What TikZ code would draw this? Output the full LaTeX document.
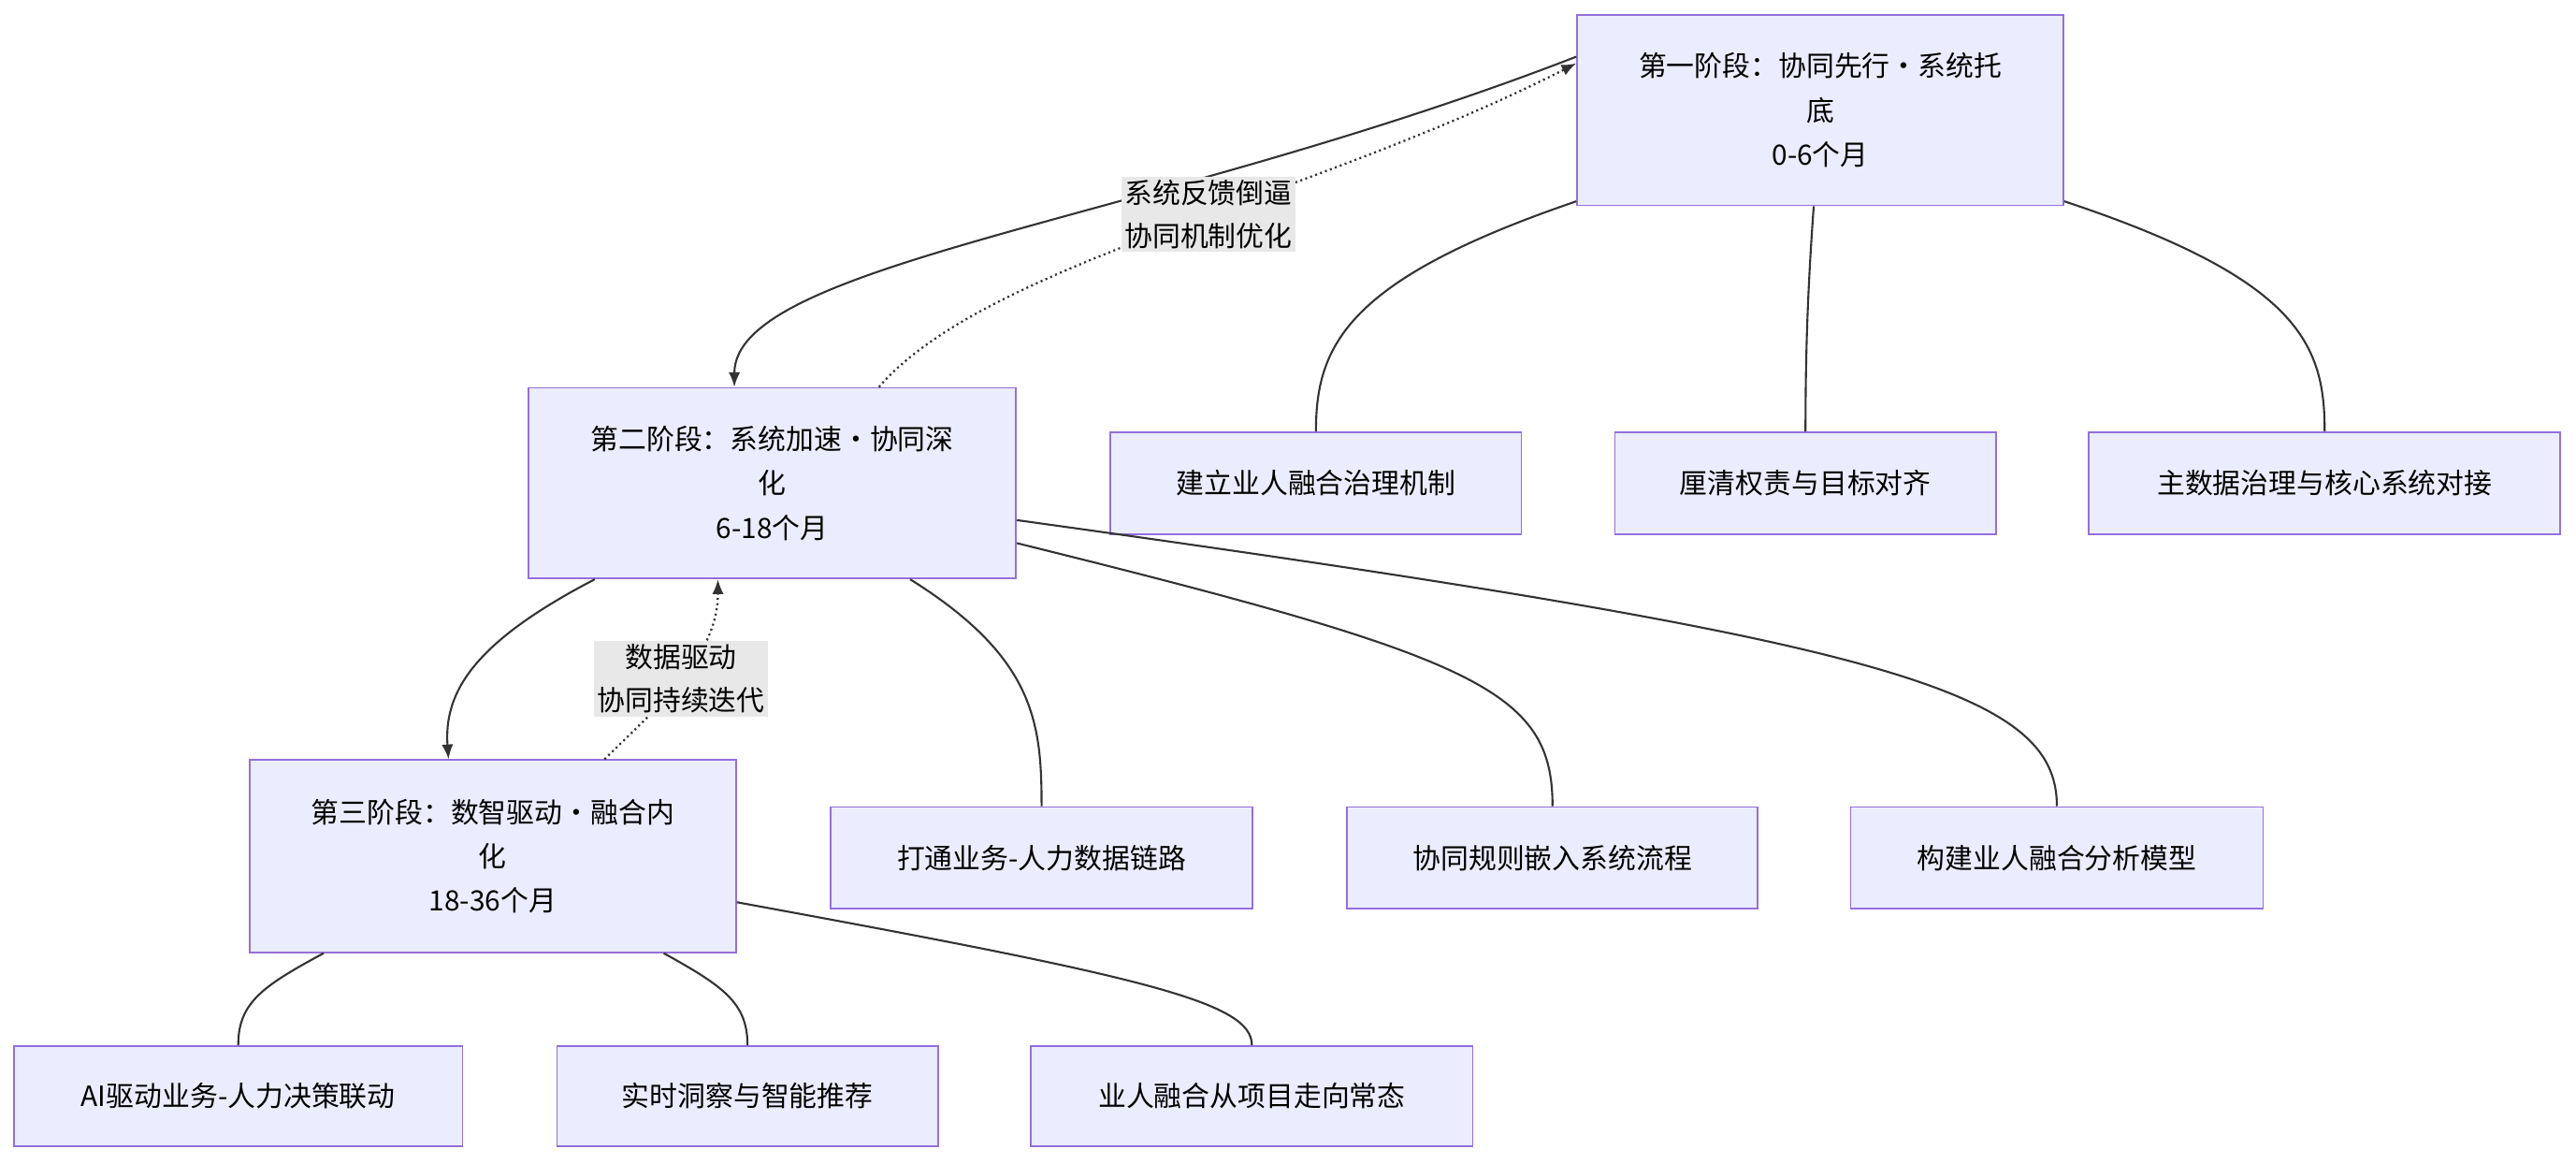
\documentclass[tikz,border=0pt]{standalone}
\usepackage{fontspec}
\setmainfont{Noto Sans CJK SC}
\usetikzlibrary{arrows.meta}
\definecolor{nfill}{HTML}{ECECFF}
\definecolor{nline}{HTML}{9370DB}
\definecolor{edge}{HTML}{333333}
\definecolor{lbg}{HTML}{E8E8E8}
\begin{document}
\begin{tikzpicture}[x=1pt,y=1pt,
  box/.style={draw=nline,fill=nfill,line width=1pt,inner sep=0,align=center,font=\fontsize{17}{27}\selectfont},
  ln/.style={draw=edge,line width=1.2pt},
  arr/.style={ln,-{Latex[length=9pt,width=7pt]}},
  dot/.style={arr,dotted,line width=1.3pt},
  lab/.style={fill=lbg,align=center,inner sep=2pt,font=\fontsize{17}{26}\selectfont}]
\useasboundingbox (0,0) rectangle (1568,-708);
\node[box,minimum width=296,minimum height=116] (p1) at (1108,-67) {第一阶段：协同先行·系统托\\底\\0-6个月};
\node[box,minimum width=297,minimum height=116] (p2) at (470,-294) {第二阶段：系统加速·协同深\\化\\6-18个月};
\node[box,minimum width=296,minimum height=117] (p3) at (300,-521) {第三阶段：数智驱动·融合内\\化\\18-36个月};
\node[box,minimum width=250,minimum height=62] (a1) at (801,-294) {建立业人融合治理机制};
\node[box,minimum width=232,minimum height=62] (a2) at (1099,-294) {厘清权责与目标对齐};
\node[box,minimum width=287,minimum height=62] (a3) at (1415,-294) {主数据治理与核心系统对接};
\node[box,minimum width=257,minimum height=62] (b1) at (634,-522) {打通业务-人力数据链路};
\node[box,minimum width=250,minimum height=62] (b2) at (945,-522) {协同规则嵌入系统流程};
\node[box,minimum width=251,minimum height=62] (b3) at (1252,-522) {构建业人融合分析模型};
\node[box,minimum width=273,minimum height=61] (c1) at (145,-667) {AI驱动业务-人力决策联动};
\node[box,minimum width=232,minimum height=61] (c2) at (455,-667) {实时洞察与智能推荐};
\node[box,minimum width=269,minimum height=61] (c3) at (762,-667) {业人融合从项目走向常态};
% phase arrows
\draw[arr] ([yshift=-26]p1.north west) .. controls (700,-135) and (447,-160) .. ([xshift=-23]p2.north);
\draw[dot] ([xshift=65]p2.north) .. controls (600,-160) and (800,-120) .. node[lab,pos=0.55] (l1) {系统反馈倒逼\\协同机制优化} ([yshift=-30]p1.north west);
\draw[arr] ([xshift=41]p2.south west) .. controls (290,-390) and (270,-420) .. ([xshift=-27]p3.north);
\draw[dot] ([xshift=68]p3.north) .. controls (400,-430) and (437,-400) .. node[lab,pos=0.5] (l2) {数据驱动\\协同持续迭代} ([xshift=-33]p2.south);
% children
\draw[ln] ([yshift=3]p1.south west) .. controls (820,-170) and (801,-210) .. (a1.north);
\draw[ln] ([xshift=-4]p1.south) .. controls (1100,-180) and (1099,-220) .. (a2.north);
\draw[ln] ([yshift=3]p1.south east) .. controls (1400,-170) and (1415,-210) .. (a3.north);
\draw[ln] ([xshift=84]p2.south) .. controls (630,-400) and (634,-440) .. (b1.north);
\draw[ln] ([yshift=22]p2.south east) .. controls (900,-400) and (945,-420) .. (b2.north);
\draw[ln] ([yshift=36]p2.south east) .. controls (1150,-390) and (1252,-420) .. (b3.north);
\draw[ln] ([xshift=-103]p3.south) .. controls (160,-600) and (145,-610) .. (c1.north);
\draw[ln] ([xshift=104]p3.south) .. controls (440,-600) and (455,-610) .. (c2.north);
\draw[ln] ([yshift=31]p3.south east) .. controls (700,-595) and (762,-610) .. (c3.north);
\end{tikzpicture}
\end{document}
